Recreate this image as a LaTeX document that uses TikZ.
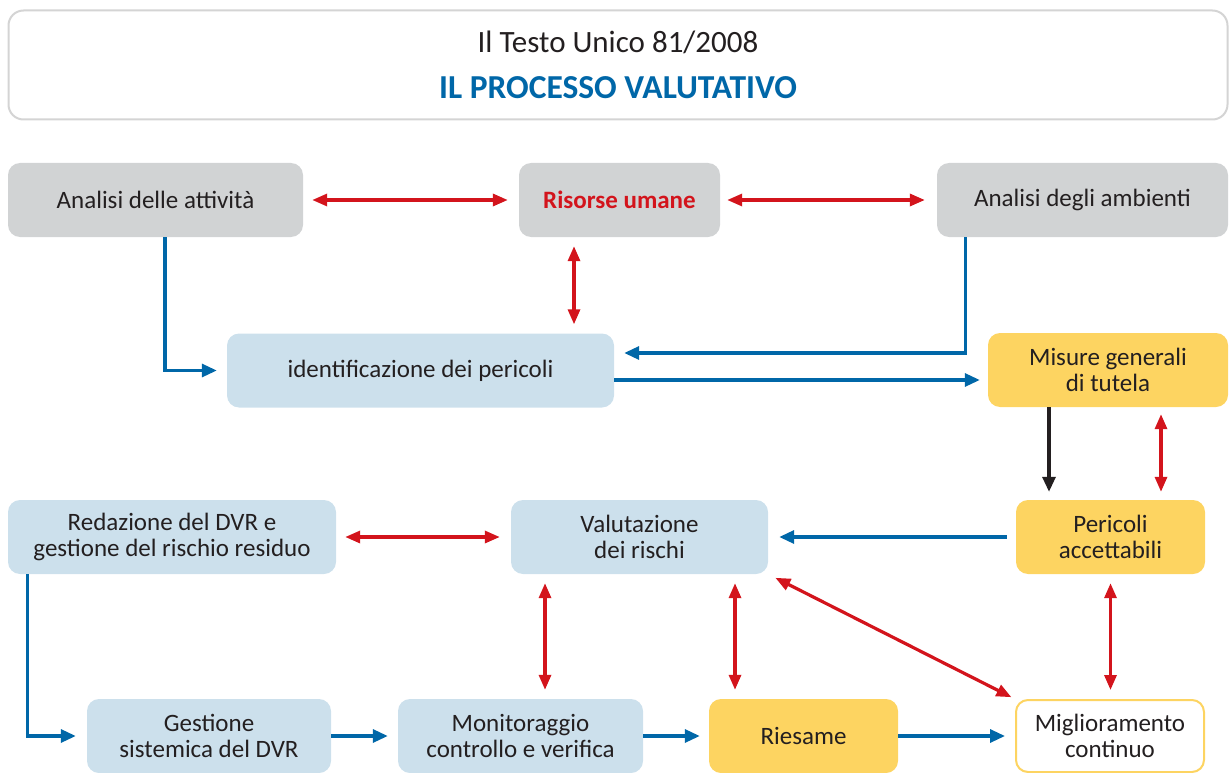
\documentclass[tikz,border=0pt]{standalone}
\usepackage{fontspec}
\setmainfont{Carlito}
\usetikzlibrary{arrows.meta}
\definecolor{ink}{HTML}{231F20}
\definecolor{inputgray}{HTML}{D1D3D4}
\definecolor{stageblue}{HTML}{CCE0EC}
\definecolor{checkyellow}{HTML}{FDD461}
\definecolor{flowblue}{HTML}{0067A8}
\definecolor{linkred}{HTML}{D3141C}
\definecolor{framegray}{HTML}{D4D4D4}
\tikzset{
  block/.style={
    rounded corners=12pt,
    minimum height=74pt,
    align=center,
    inner sep=0pt,
    text=ink,
    font=\fontsize{25}{25.5}\selectfont
  },
  input/.style={block, fill=inputgray},
  stage/.style={block, fill=stageblue},
  check/.style={block, fill=checkyellow},
  goal/.style={block, fill=white, draw=checkyellow, line width=2pt},
  flow/.style={-{Triangle[length=15pt, width=13pt]}, line width=3.2pt, draw=flowblue},
  flowdark/.style={flow, draw=ink},
  link/.style={{Triangle[length=15pt, width=12pt]}-{Triangle[length=15pt, width=12pt]},
    line width=3.2pt, draw=linkred}
}
\begin{document}
\begin{tikzpicture}[x=1pt, y=-1pt]
  \useasboundingbox (0,0) rectangle (1229,773);

  \node[rounded corners=15pt, draw=framegray, line width=2pt, fill=white,
    minimum width=1219pt, minimum height=109pt] (frame) at (618,65) {};
  \node[text=ink, font=\fontsize{31}{36}\selectfont] (title) at (618,42)
    {Il Testo Unico 81/2008};
  \node[text=flowblue, font=\fontsize{33.5}{38}\selectfont\bfseries] (subtitle) at (618,88)
    {IL PROCESSO VALUTATIVO};

  % inputs
  \node[input, minimum width=295pt] (attivita) at (155.5,200) {Analisi delle attività};
  \node[input, minimum width=201pt, text=linkred, font=\fontsize{25}{25.5}\selectfont\bfseries]
    (risorse) at (619.5,200) {Risorse umane};
  \node[input, minimum width=291pt] (ambienti) at (1082.5,200) {Analisi degli ambienti};

  \node[stage, minimum width=387pt] (pericoli) at (420.5,370.5) {identificazione dei pericoli};
  \node[check, minimum width=240pt] (misure) at (1108,370) {Misure generali\\di tutela};

  \node[stage, minimum width=328pt] (dvr) at (172,537) {Redazione del DVR e\\gestione del rischio residuo};
  \node[stage, minimum width=257pt] (valutazione) at (639.5,537) {Valutazione\\dei rischi};
  \node[check, minimum width=189pt] (accettabili) at (1110.5,537) {Pericoli\\accettabili};

  \node[stage, minimum width=244pt] (gestione) at (209,736) {Gestione\\sistemica del DVR};
  \node[stage, minimum width=245pt] (monitoraggio) at (520.5,736) {Monitoraggio\\controllo e verifica};
  \node[check, minimum width=189pt] (riesame) at (803.5,736) {Riesame};
  \node[goal, minimum width=188pt, minimum height=72pt] (miglioramento) at (1110,736) {Miglioramento\\continuo};

  % top row
  \draw[link, shorten <=9pt, shorten >=11pt] (attivita) -- (risorse);
  \draw[link, shorten <=7pt, shorten >=12pt] (risorse) -- (ambienti);
  \draw[link, shorten <=9pt, shorten >=9pt] ([xshift=-45.5pt]risorse.south)
    -- ([xshift=-45.5pt]risorse.south |- pericoli.north);

  \draw[flow, shorten >=10pt] ([xshift=9.5pt]attivita.south) |- (pericoli.west);
  \draw[flow, shorten >=10pt] ([xshift=29pt]ambienti.south west) |- ([yshift=17.5pt]pericoli.east);
  \draw[flow, shorten >=8pt] ([yshift=-9.5pt]pericoli.east) -- ([yshift=-9.5pt]pericoli.east -| misure.west);

  % right column
  \draw[flowdark, shorten >=8pt] ([xshift=-59pt]misure.south)
    -- ([xshift=-59pt]misure.south |- accettabili.north);
  \draw[link, shorten <=7pt, shorten >=8pt] ([xshift=53pt]misure.south)
    -- ([xshift=53pt]misure.south |- accettabili.north);
  \draw[flow, shorten <=9pt, shorten >=11pt] (accettabili) -- (valutazione);
  \draw[link, shorten <=9pt, shorten >=11pt] (dvr) -- (valutazione);

  % bottom row
  \draw[flow, shorten >=11pt] ([xshift=20pt]dvr.south west) |- (gestione.west);
  \draw[flow, shorten >=10pt] (gestione) -- (monitoraggio);
  \draw[flow, shorten >=9pt] (monitoraggio) -- (riesame);
  \draw[flow, shorten >=10pt] (riesame) -- (miglioramento);

  \draw[link, shorten <=9pt, shorten >=9pt] ([xshift=-94.5pt]valutazione.south)
    -- ([xshift=-94.5pt]valutazione.south |- monitoraggio.north);
  \draw[link, shorten <=9pt, shorten >=9pt] ([xshift=95.5pt]valutazione.south)
    -- ([xshift=95.5pt]valutazione.south |- riesame.north);
  \draw[link, shorten <=8pt, shorten >=4pt] (valutazione.south east) -- (miglioramento.north west);
  \draw[link, shorten <=9pt, shorten >=9pt] (accettabili.south) -- (accettabili.south |- miglioramento.north);
\end{tikzpicture}
\end{document}
